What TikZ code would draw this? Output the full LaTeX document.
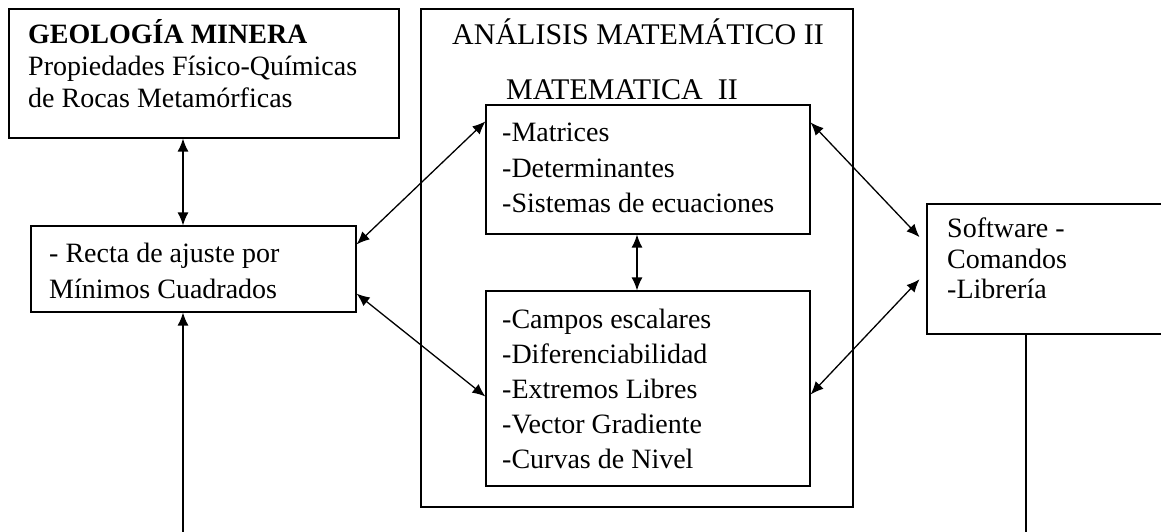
\documentclass[tikz,border=0pt]{standalone}
\usepackage{fontspec}
\setmainfont{Liberation Serif}
\usetikzlibrary{arrows.meta}
\tikzstyle{box}=[draw, rectangle, line width=1.2pt, inner sep=0pt]
\tikzstyle{lbl}=[anchor=base west, inner sep=0pt, font=\fontsize{28}{34}\selectfont]
\tikzstyle{head}=[anchor=base west, inner sep=0pt, font=\fontsize{30}{36}\selectfont]
\tikzstyle{line}=[draw, line width=1.3pt, {Latex[length=13pt,width=11pt]}-{Latex[length=13pt,width=11pt]}]
\begin{document}
\begin{tikzpicture}[x=1pt,y=-1pt]
  \useasboundingbox (0,0) rectangle (1161,532);
  % boxes
  \node[box, minimum width=390pt, minimum height=129pt] (geo) at (204,73.5) {};
  \node[box, minimum width=325pt, minimum height=86pt] (recta) at (193.5,269) {};
  \node[box, minimum width=432pt, minimum height=498pt] (analisis) at (637,258) {};
  \node[box, minimum width=324pt, minimum height=129pt] (matrices) at (648,169.5) {};
  \node[box, minimum width=324pt, minimum height=195pt] (campos) at (648,388.5) {};
  \node[box, minimum width=260pt, minimum height=130pt] (software) at (1057,269) {};
  % texts
  \node[lbl] (geo1) at (28,44) {\textbf{GEOLOGÍA MINERA}};
  \node[lbl] (geo2) at (28,76) {Propiedades Físico-Químicas};
  \node[lbl] (geo3) at (28,108) {de Rocas Metamórficas};
  \node[lbl] (recta1) at (49,262) {- Recta de ajuste por};
  \node[lbl] (recta2) at (49,298) {Mínimos Cuadrados};
  \node[head] (title1) at (452,45) {ANÁLISIS MATEMÁTICO II};
  \node[head] (title2) at (506,100) {MATEMATICA~~II};
  \node[lbl] (mat1) at (502,142) {-Matrices};
  \node[lbl] (mat2) at (502,177) {-Determinantes};
  \node[lbl] (mat3) at (502,212) {-Sistemas de ecuaciones};
  \node[lbl] (campos1) at (502,328) {-Campos escalares};
  \node[lbl] (campos2) at (502,363) {-Diferenciabilidad};
  \node[lbl] (campos3) at (502,398) {-Extremos Libres};
  \node[lbl] (campos4) at (502,433) {-Vector Gradiente};
  \node[lbl] (campos5) at (502,468) {-Curvas de Nivel};
  \node[lbl] (soft1) at (947,237) {Software -};
  \node[lbl] (soft2) at (947,268) {Comandos};
  \node[lbl] (soft3) at (947,298) {-Librería};
  % connectors
  \coordinate (rectain) at (183,532);
  \coordinate (softout) at (1026,532);
  \path[line] (geo.south -| rectain) -- (recta.north -| rectain);
  \draw[line width=1.3pt, -{Latex[length=13pt,width=11pt]}] (rectain) -- (rectain |- recta.south);
  \draw[line width=1.2pt] (software.south -| softout) -- (softout);
  \path[line] (matrices.south -| analisis.north) -- (campos.north -| analisis.north);
  \path[line] ([yshift=-19pt]recta.north east) -- ([yshift=-17pt]matrices.north west);
  \path[line] ([yshift=19pt]recta.south east) -- ([yshift=-8pt]campos.west);
  \path[line, shorten >=10pt] ([yshift=-18pt]matrices.north east) -- ([yshift=-41pt]software.north west);
  \path[line, shorten >=10pt] ([yshift=-6pt]campos.east) -- ([yshift=-3pt]software.west);
\end{tikzpicture}
\end{document}
